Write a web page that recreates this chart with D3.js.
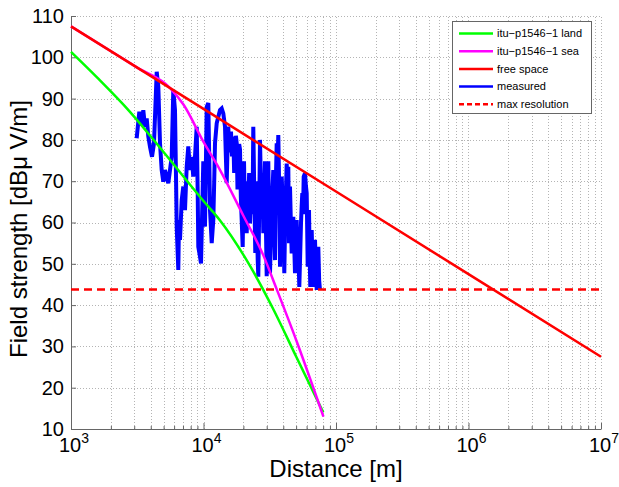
<!DOCTYPE html>
<html>
<head>
<meta charset="utf-8">
<script src="https://cdn.jsdelivr.net/npm/d3@7"></script>
<style>
  html, body { margin: 0; padding: 0; background: #fff; }
  svg { display: block; font-family: "Liberation Sans", Arial, Helvetica, sans-serif; }
</style>
</head>
<body>
<svg id="chart" width="619" height="487"></svg>
<script>
// Axis ticks
const distanceTicks = [1e3, 1e4, 1e5, 1e6, 1e7];
const fieldTicks = [10, 20, 30, 40, 50, 60, 70, 80, 90, 100, 110];

// ITU-R P.1546-1 land curve
const landDistance = [1000, 1585, 2786, 5012, 10000, 13335, 22439, 33651, 50119, 80168];
const landField = [101.3, 95.0, 86.8, 77.0, 65.2, 60.5, 49.5, 39.0, 27.5, 14.0];

// ITU-R P.1546-1 sea curve
const seaDistance = [1000, 3162, 5623, 7079, 10000, 13335, 19953, 28249, 35727, 50119, 80353];
const seaField = [107.5, 97.5, 92.5, 88.5, 79.5, 72.7, 61.7, 52.1, 43.8, 31.5, 13.0];

// Free-space field strength
const freeDistance = [1e3, 1e4, 1e5, 1e6, 1e7];
const freeField = [107.5, 87.5, 67.5, 47.5, 27.5];

// Receiver floor
const maxResolution = 43.8;

// Drive-test measurements (distance in m, field strength in dBµV/m)
const measuredDistance = [
  3131, 3278, 3417, 3513, 3618, 3727, 3832, 3947, 4087, 4231,
  4435, 4560, 4696, 4836, 4973, 5122, 5277, 5424, 5587, 5754,
  5916, 6094, 6202, 6277, 6454, 6533, 6647, 6846, 7039, 7250,
  7467, 7679, 7909, 8147, 8375, 8627, 8887, 9042, 9137, 9410,
  9575, 9692, 9965, 10264, 10573, 10870, 11061, 11197, 11533, 11858,
  12066, 12214, 12580, 12935, 13322, 13723, 14109,
  14533, 14750, 14968, 15180, 15391, 15620, 15849, 16127, 16410, 16788,
  17040, 17291, 17550, 17807, 18055, 18307, 18580, 18857, 19140, 19421,
  19760, 19990, 20215, 20390, 20568, 20875, 21184, 21480, 21781, 22105,
  22434, 22770, 23110, 23430, 23757, 24176, 24598, 24900, 25205, 25650,
  25917, 26300, 26694, 27090, 27492, 27880, 28268, 28690, 29121, 29555,
  29992, 30415, 30838, 31300, 31760, 32235, 32711, 33170, 33632, 34135,
  34639, 35160, 35682, 36180, 36684, 37330, 37789, 38355, 38920, 39470,
  40020, 40719, 41220, 41723, 42453, 43050, 43652, 44188, 44575, 44960,
  45635, 46313, 46960, 47611, 48330, 49044, 49775, 50510, 51225, 51939,
  52845, 53640, 54427, 55055, 55681, 56360, 57044, 58345, 59225, 60103,
  61150, 61850, 62548, 63260, 63973, 64765, 65554, 66480, 67406, 68415,
  69423, 70460, 71500, 72510, 73520, 74620, 75716
];
const measuredField = [
  80.4, 86.8, 83.6, 87.2, 83.2, 85.2, 80.8, 78.3, 75.9, 79.2,
  96.5, 92.9, 79.2, 72.7, 69.9, 72.7, 71.1, 69.5, 72.7, 75.9,
  92.1, 87.2, 71.1, 59.0, 48.5, 60.6, 55.8, 65.4, 68.7, 63.0,
  73.5, 78.4, 72.7, 75.9, 71.1, 75.9, 83.2, 67.1, 54.1, 51.7,
  50.1, 57.4, 74.8, 59.0, 88.0, 88.9, 74.8, 63.0, 55.0, 60.6,
  71.0, 79.2, 84.0, 85.6, 87.2, 87.6, 86.4,
  83.2, 76.0, 69.5, 78.0, 83.2, 77.0, 78.4, 82.0, 76.0, 80.8,
  72.0, 74.8, 81.0, 79.2, 68.0, 72.7, 79.0, 77.7, 66.0, 60.6,
  54.1, 66.0, 74.8, 68.0, 63.0, 70.0, 57.4, 66.0, 64.6, 72.0,
  59.8, 66.0, 71.1, 62.0, 83.2, 67.1, 52.6, 70.0, 63.0, 50.9,
  46.9, 62.0, 80.0, 70.0, 63.0, 72.0, 57.4, 66.0, 74.8, 60.0,
  47.0, 62.0, 74.8, 58.0, 47.7, 56.0, 63.0, 68.0, 72.7, 60.0,
  50.9, 70.0, 79.2, 74.0, 81.2, 67.1, 49.3, 62.0, 71.1, 66.0,
  60.6, 47.7, 58.0, 65.4, 74.3, 68.0, 73.5, 55.0, 62.0, 68.7,
  60.0, 52.5, 58.0, 61.4, 55.0, 47.7, 56.0, 60.6, 52.0, 54.1,
  44.4, 52.0, 59.8, 64.0, 67.1, 62.0, 71.1, 71.9, 69.0, 67.1,
  49.3, 56.0, 63.0, 52.0, 44.4, 50.0, 58.2, 50.0, 44.4, 50.0,
  55.8, 49.0, 43.7, 48.0, 54.1, 46.0, 43.7
];

const svg = d3.select("#chart");

const x = d3.scaleLog().domain([1e3, 1e7]).range([71, 601]);
const y = d3.scaleLinear().domain([10, 110]).range([429, 16]);

// Dotted grid
const xGridTicks = x.ticks();
const grid = svg.append("g").attr("stroke", "#b4b4b4").attr("stroke-width", 1)
  .attr("stroke-dasharray", "1,2");
grid.selectAll("line.gx").data(xGridTicks.filter(d => d > 1e3)).join("line")
  .attr("x1", d => Math.round(x(d)) + 0.5).attr("x2", d => Math.round(x(d)) + 0.5)
  .attr("y1", y(10)).attr("y2", y(110));
grid.selectAll("line.gy").data(fieldTicks.filter(d => d > 10)).join("line")
  .attr("x1", x(1e3)).attr("x2", x(1e7))
  .attr("y1", d => Math.round(y(d)) + 0.5).attr("y2", d => Math.round(y(d)) + 0.5);

// Axes
const yAxis = d3.axisLeft(y).tickValues(fieldTicks).tickSizeInner(-5).tickSizeOuter(0)
  .tickPadding(7).tickFormat(d3.format("d"));
const gy = svg.append("g").attr("transform", `translate(${x(1e3)},0)`).call(yAxis);
gy.selectAll("text").attr("font-size", 20).attr("fill", "#000")
  .attr("font-family", "Liberation Sans, Arial, sans-serif");

const xAxis = d3.axisBottom(x).tickValues(xGridTicks).tickSizeOuter(0)
  .tickSizeInner(-4).tickFormat("");
const gx = svg.append("g").attr("transform", `translate(0,${y(10)})`).call(xAxis);
gx.selectAll(".tick line").attr("y2", d => distanceTicks.includes(d) ? -6 : -3);

[gx, gy].forEach(g => {
  g.select(".domain").attr("stroke", "#666");
  g.selectAll(".tick line").attr("stroke", "#666");
});

// Decade labels with superscript exponents
svg.append("g").selectAll("text").data(distanceTicks).join("text")
  .attr("x", d => x(d) + 3).attr("y", 452)
  .attr("text-anchor", "middle").attr("font-size", 20).attr("fill", "#000")
  .each(function (d) {
    const t = d3.select(this);
    t.append("tspan").text("10");
    t.append("tspan").attr("dy", -9).attr("font-size", 14).text(Math.round(Math.log10(d)));
  });

// Axis titles
svg.append("text").attr("x", 336).attr("y", 477).attr("text-anchor", "middle")
  .attr("font-size", 24).attr("fill", "#000").text("Distance [m]");
svg.append("text").attr("transform", "translate(27,229) rotate(-90)")
  .attr("text-anchor", "middle").attr("font-size", 24).attr("fill", "#000")
  .text("Field strength [dBμ V/m]");

// Curves
const plot = svg.append("g");
const line = d3.line().x(d => x(d[0])).y(d => y(d[1]));
const curve = d3.line().x(d => x(d[0])).y(d => y(d[1])).curve(d3.curveMonotoneX);

plot.append("path").datum(d3.zip(measuredDistance, measuredField))
  .attr("d", line).attr("fill", "none").attr("stroke", "#0000ff")
  .attr("stroke-width", 4).attr("stroke-linejoin", "miter").attr("stroke-miterlimit", 2);

plot.append("path").datum(d3.zip(landDistance, landField))
  .attr("d", curve).attr("fill", "none").attr("stroke", "#00ff00").attr("stroke-width", 2.5);

plot.append("path").datum(d3.zip(seaDistance, seaField))
  .attr("d", curve).attr("fill", "none").attr("stroke", "#ff00ff").attr("stroke-width", 2.5);

plot.append("path").datum(d3.zip(freeDistance, freeField))
  .attr("d", line).attr("fill", "none").attr("stroke", "#ff0000").attr("stroke-width", 2.5);

plot.append("line")
  .attr("x1", x(1e3)).attr("x2", x(1e7))
  .attr("y1", y(maxResolution)).attr("y2", y(maxResolution))
  .attr("stroke", "#ff0000").attr("stroke-width", 2.5).attr("stroke-dasharray", "8,5");

// Legend
const legendItems = [
  { label: "itu\u2212p1546\u22121 land", color: "#00ff00", dash: null },
  { label: "itu\u2212p1546\u22121 sea", color: "#ff00ff", dash: null },
  { label: "free space", color: "#ff0000", dash: null },
  { label: "measured", color: "#0000ff", dash: null },
  { label: "max resolution", color: "#ff0000", dash: "5,3" }
];
const legend = svg.append("g");
legend.append("rect").attr("x", 452.5).attr("y", 21.5).attr("width", 139).attr("height", 92)
  .attr("fill", "#fff").attr("stroke", "#666").attr("stroke-width", 1);
const rows = legend.selectAll("g.row").data(legendItems).join("g")
  .attr("transform", (d, i) => `translate(0,${33.5 + i * 17.7})`);
rows.append("line").attr("x1", 459).attr("x2", 493).attr("y1", 0).attr("y2", 0)
  .attr("stroke", d => d.color).attr("stroke-width", 2.5)
  .attr("stroke-dasharray", d => d.dash);
rows.append("text").attr("x", 497).attr("y", 0).attr("dy", "0.35em")
  .attr("font-size", 11).attr("fill", "#000").text(d => d.label);
</script>
</body>
</html>
